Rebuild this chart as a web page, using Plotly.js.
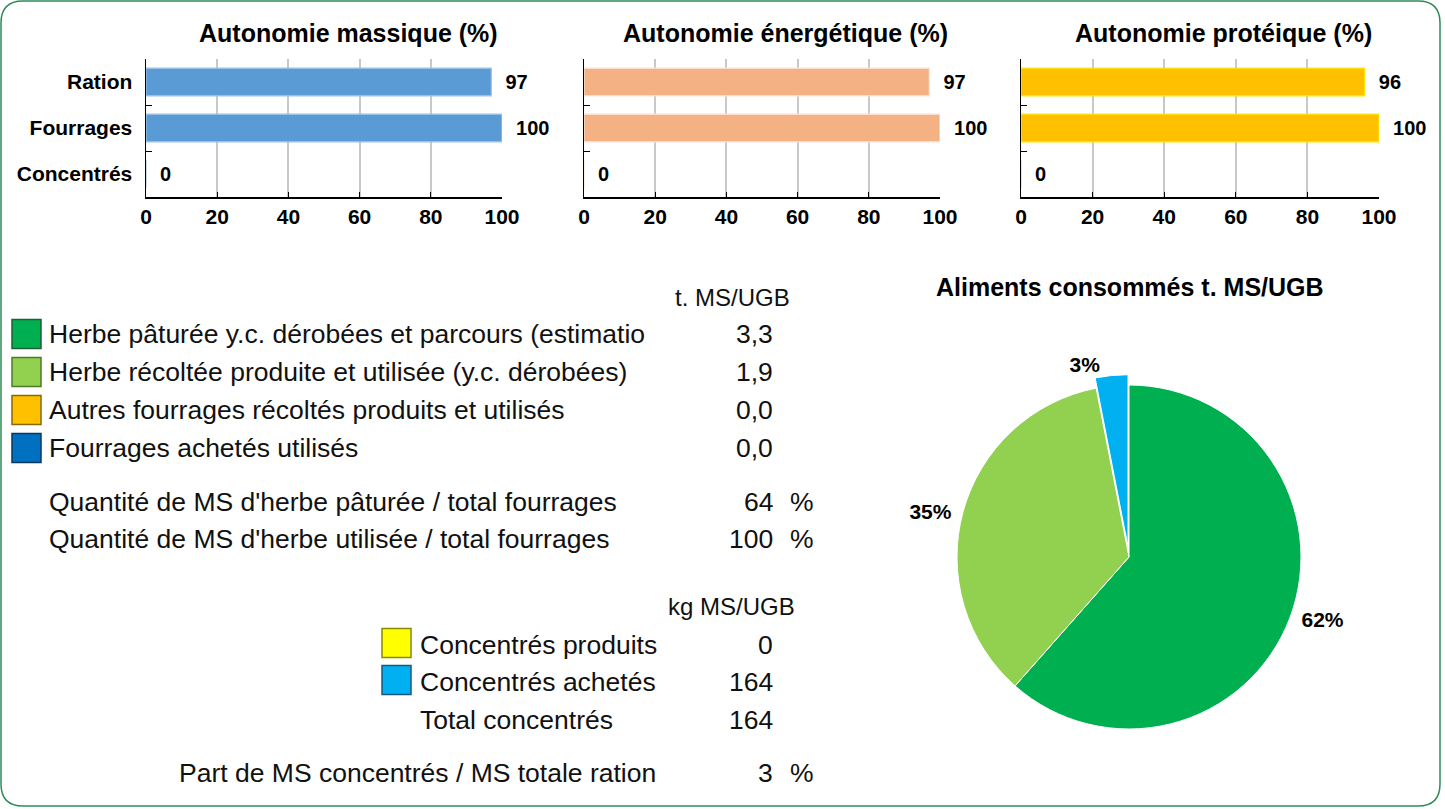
<!DOCTYPE html>
<html>
<head>
<meta charset="utf-8">
<script src="https://cdn.plot.ly/plotly-3.0.1.min.js"></script>
<style>
  html, body { margin: 0; padding: 0; background: #ffffff; }
  #chart { width: 1445px; height: 809px; }
</style>
</head>
<body>
<div id="chart"></div>
<script>
// ---------------- DATA ----------------
const categories = ['Ration', 'Fourrages', 'Concentrés'];
const massique = [97, 100, 0];
const energetique = [97, 100, 0];
const proteique = [96, 100, 0];
const barTitles = ['Autonomie massique (%)', 'Autonomie énergétique (%)', 'Autonomie protéique (%)'];

const fourrageHeader = 't. MS/UGB';
const fourrageLabels = [
  'Herbe pâturée y.c. dérobées et parcours (estimatio',
  'Herbe récoltée produite et utilisée (y.c. dérobées)',
  'Autres fourrages récoltés produits et utilisés',
  'Fourrages achetés utilisés'
];
const fourrageValues = [3.3, 1.9, 0.0, 0.0];

const herbeLabels = [
  "Quantité de MS d'herbe pâturée / total fourrages",
  "Quantité de MS d'herbe utilisée / total fourrages"
];
const herbeValues = [64, 100];

const concHeader = 'kg MS/UGB';
const concLabels = ['Concentrés produits', 'Concentrés achetés', 'Total concentrés'];
const concValues = [0, 164, 164];

const partLabel = 'Part de MS concentrés / MS totale ration';
const partValue = 3;

const pieTitle = 'Aliments consommés t. MS/UGB';
const pieLabels = ['Herbe pâturée', 'Herbe récoltée', 'Concentrés achetés'];
const pieValues = [fourrageValues[0], fourrageValues[1], concValues[1] / 1000];

// ---------------- STYLE ----------------
const W = 1445, H = 809;
const px = x => x / W;
const py = y => 1 - y / H;
const FONT = 'Liberation Sans, Arial, sans-serif';

const barColors = ['#5B9BD5', '#F4B183', '#FFC000'];
const barLines = ['#9DC3E6', '#FBE5D6', '#FFE600'];
const fourrageColors = ['#00B050', '#92D050', '#FFC000', '#0070C0'];
const fourrageEdges = ['#1f5f35', '#4f7a2a', '#8a6a00', '#0a3760'];
const concColors = ['#FFFF00', '#00B0F0'];
const concEdges = ['#8a8a00', '#1a5a80'];
const pieColors = ['#00B050', '#92D050', '#00B0F0'];

const barDomainsX = [[146, 502], [584, 940], [1021, 1379]];
const barTop = 59, barBottom = 197;
const barTitleX = [348, 785, 1223];

const series = [massique, energetique, proteique];
const traces = [];
const layout = {
  width: W, height: H,
  margin: {l: 0, r: 0, t: 0, b: 0},
  paper_bgcolor: '#ffffff',
  plot_bgcolor: '#ffffff',
  font: {family: FONT, color: '#000000'},
  showlegend: false,
  bargap: 0.4,
  annotations: [],
  shapes: []
};

series.forEach((vals, i) => {
  const n = i === 0 ? '' : String(i + 1);
  traces.push({
    type: 'bar',
    orientation: 'h',
    x: vals,
    y: categories,
    xaxis: 'x' + n,
    yaxis: 'y' + n,
    marker: {color: barColors[i], line: {color: barLines[i], width: 1.2}},
    text: vals.map(v => '\u00a0\u00a0' + v),
    textposition: 'outside',
    cliponaxis: false,
    textfont: {family: FONT, size: 20, weight: 'bold', color: '#000'},
    hoverinfo: 'skip'
  });
  layout['xaxis' + n] = {
    domain: [px(barDomainsX[i][0]), px(barDomainsX[i][1])],
    anchor: 'y' + n,
    range: [0, 100],
    dtick: 20,
    tick0: 0,
    showgrid: true,
    gridcolor: '#c8c8c8',
    gridwidth: 2,
    zeroline: false,
    showline: true,
    linecolor: '#000000',
    linewidth: 1.5,
    ticks: 'inside',
    ticklen: 5,
    tickcolor: '#000000',
    tickfont: {family: FONT, size: 21, weight: 'bold', color: '#000'},
    fixedrange: true
  };
  layout['yaxis' + n] = {
    domain: [py(barBottom), py(barTop)],
    anchor: 'x' + n,
    type: 'category',
    categoryorder: 'array',
    categoryarray: categories,
    autorange: 'reversed',
    showgrid: false,
    zeroline: false,
    showline: true,
    linecolor: '#000000',
    linewidth: 1.5,
    ticks: 'inside',
    tickson: 'boundaries',
    ticklen: 6,
    tickcolor: '#000000',
    showticklabels: i === 0,
    ticklabelstandoff: 8,
    tickfont: {family: FONT, size: 21, weight: 'bold', color: '#000'},
    fixedrange: true
  };
  layout.annotations.push({
    xref: 'paper', yref: 'paper', x: px(barTitleX[i]), y: py(33),
    xanchor: 'center', yanchor: 'middle', showarrow: false,
    text: barTitles[i],
    font: {family: FONT, size: 25, weight: 'bold', color: '#000'}
  });
});

// Pie
const pull = 0.06, pieR = 172, pieCx = 1129, pieCy = 557;
const half = pieR * (1 + pull);
traces.push({
  type: 'pie',
  labels: pieLabels,
  values: pieValues,
  sort: false,
  direction: 'clockwise',
  rotation: 0,
  pull: [0, 0, pull],
  marker: {colors: pieColors, line: {color: '#ffffff', width: 1}},
  textinfo: 'percent',
  texttemplate: '\u00a0%{percent:.0%}\u00a0',
  textposition: 'outside',
  outsidetextfont: {family: FONT, size: 21, weight: 'bold', color: '#000'},
  domain: {x: [px(pieCx - half), px(pieCx + half)], y: [py(pieCy + half), py(pieCy - half)]},
  hoverinfo: 'skip'
});
layout.annotations.push({
  xref: 'paper', yref: 'paper', x: px(1130), y: py(287),
  xanchor: 'center', yanchor: 'middle', showarrow: false,
  text: pieTitle,
  font: {family: FONT, size: 25, weight: 'bold', color: '#000'}
});

// Table texts
function txt(text, x, y, anchor, size) {
  layout.annotations.push({
    xref: 'paper', yref: 'paper', x: px(x), y: py(y),
    xanchor: anchor, yanchor: 'middle', showarrow: false,
    text: text,
    font: {family: FONT, size: size || 26.5, color: '#111111'}
  });
}
function swatch(x, yc, color, edge) {
  layout.shapes.push({
    type: 'rect', xref: 'paper', yref: 'paper',
    x0: px(x), x1: px(x + 29), y0: py(yc + 14.5), y1: py(yc - 14.5),
    fillcolor: color, line: {color: edge, width: 1.5}
  });
}
const fmt1 = v => v.toFixed(1).replace('.', ',');

txt(fourrageHeader, 732, 297, 'center', 24);
const fourrageY = [334, 372, 410, 448];
fourrageLabels.forEach((lab, i) => {
  swatch(12, fourrageY[i], fourrageColors[i], fourrageEdges[i]);
  txt(lab, 47, fourrageY[i], 'left');
  txt(fmt1(fourrageValues[i]), 775, fourrageY[i], 'right');
});
const herbeY = [502, 539];
herbeLabels.forEach((lab, i) => {
  txt(lab, 47, herbeY[i], 'left');
  txt(String(herbeValues[i]), 775, herbeY[i], 'right');
  txt('%', 788, herbeY[i], 'left');
});
txt(concHeader, 731, 606, 'center', 24);
const concY = [645, 682, 720];
concLabels.forEach((lab, i) => {
  if (i < concColors.length) swatch(382, concY[i] - 2, concColors[i], concEdges[i]);
  txt(lab, 418, concY[i], 'left');
  txt(String(concValues[i]), 775, concY[i], 'right');
});
txt(partLabel, 658, 773, 'right');
txt(String(partValue), 775, 773, 'right');
txt('%', 788, 773, 'left');

// Rounded frame
(function () {
  const x0 = 1, y0 = 1, x1 = 1440, y1 = 806, r = 22;
  const P = (x, y) => px(x) + ',' + py(y);
  const path = 'M' + P(x0 + r, y0) + ' L' + P(x1 - r, y0) + ' Q' + P(x1, y0) + ' ' + P(x1, y0 + r) +
    ' L' + P(x1, y1 - r) + ' Q' + P(x1, y1) + ' ' + P(x1 - r, y1) +
    ' L' + P(x0 + r, y1) + ' Q' + P(x0, y1) + ' ' + P(x0, y1 - r) +
    ' L' + P(x0, y0 + r) + ' Q' + P(x0, y0) + ' ' + P(x0 + r, y0) + ' Z';
  layout.shapes.push({type: 'path', xref: 'paper', yref: 'paper', path: path,
    line: {color: '#2E8B57', width: 1.5}, layer: 'above'});
})();

Plotly.newPlot('chart', traces, layout, {displayModeBar: false, staticPlot: true});
</script>
</body>
</html>
